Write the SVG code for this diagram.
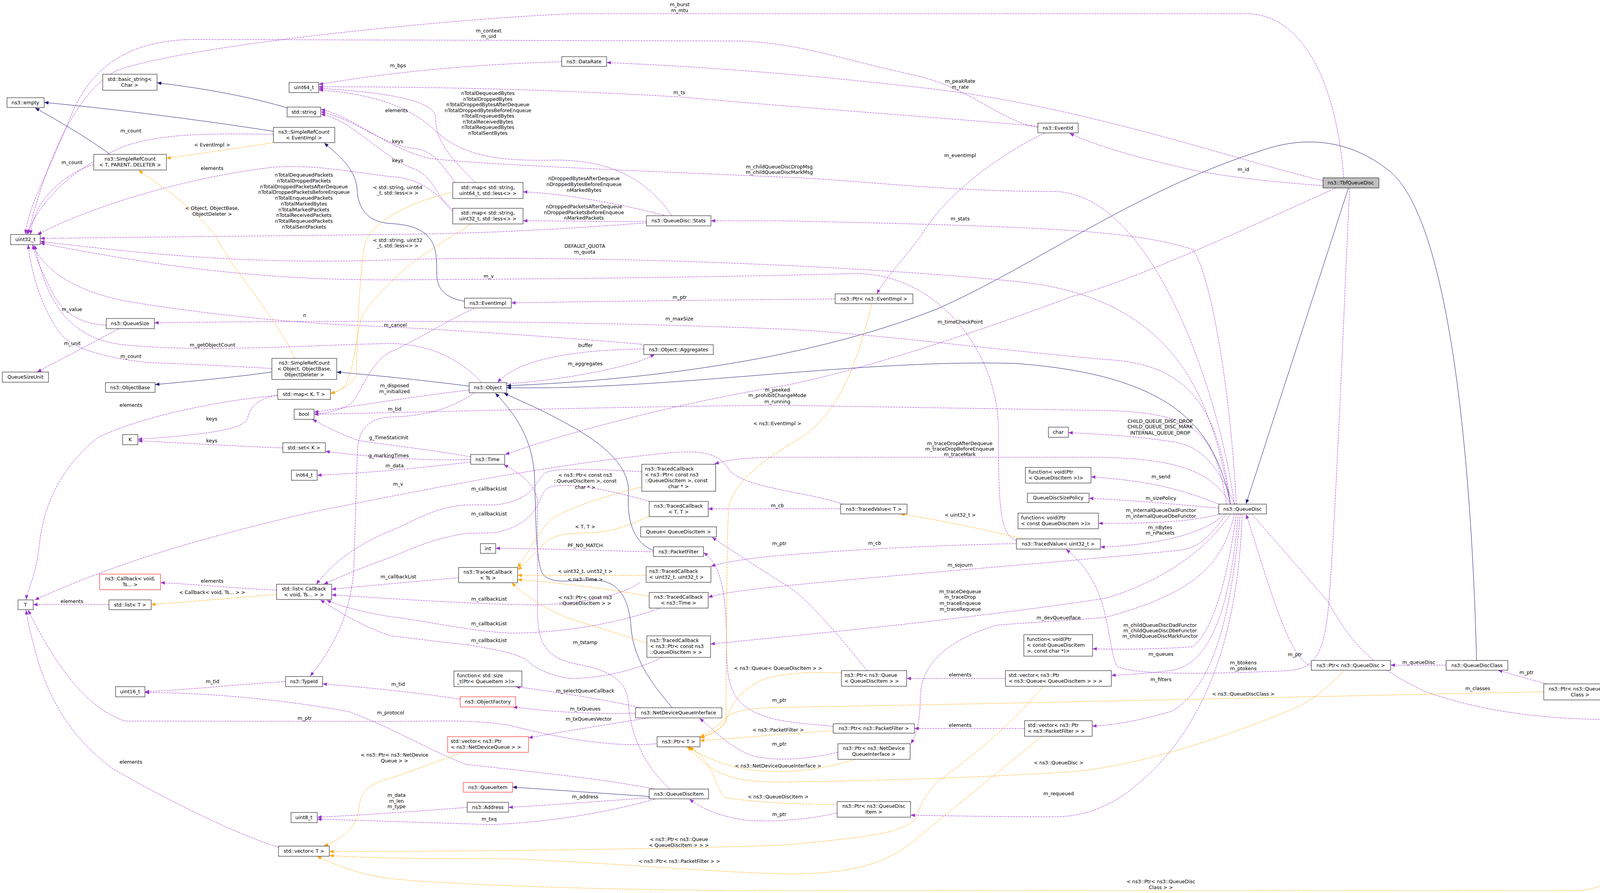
<svg xmlns="http://www.w3.org/2000/svg" width="4461" height="2285" viewBox="0 0 4461 2285">
<style>
.n rect{fill:#fff;stroke:#000;stroke-width:1}
.r rect{stroke:#f00}
text{font-family:"DejaVu Sans",sans-serif;font-size:12.5px;fill:#000}
.c{text-anchor:middle}
.p{fill:none;stroke:#9a32cd;stroke-dasharray:5,2;marker-end:url(#ap)}
.o{fill:none;stroke:#ffa500;stroke-dasharray:5,2;marker-end:url(#ao)}
.b{fill:none;stroke:#191970;marker-end:url(#ab)}
</style>
<defs>
<marker id="ap" viewBox="0 0 10 10" refX="10" refY="5" markerWidth="13" markerHeight="11" markerUnits="userSpaceOnUse" orient="auto"><path d="M0,1L10,5L0,9z" fill="#9a32cd"/></marker>
<marker id="ao" viewBox="0 0 10 10" refX="10" refY="5" markerWidth="13" markerHeight="11" markerUnits="userSpaceOnUse" orient="auto"><path d="M0,1L10,5L0,9z" fill="#ffa500"/></marker>
<marker id="ab" viewBox="0 0 10 10" refX="10" refY="5" markerWidth="13" markerHeight="11" markerUnits="userSpaceOnUse" orient="auto"><path d="M0,1L10,5L0,9z" fill="#191970"/></marker>
</defs>
<rect width="4461" height="2285" fill="#fff"/>
<g id="connectors">
<path class="b" d="M735,276 C650,250 520,225 402,212"/>
<path class="b" d="M700,336 C500,305 300,280 113,262"/>
<path class="b" d="M282,395 C220,350 150,310 90,276"/>
<path class="b" d="M1189,771 C1140,762 1118,740 1118,700 C1118,640 1120,578 1000,572 C930,568 915,520 914,480 C908,430 865,395 830,366"/>
<path class="b" d="M1201,988 C1100,975 980,962 862,952"/>
<path class="b" d="M696,952 C600,965 500,975 397,984"/>
<path class="b" d="M3150,1290 C3110,1090 3000,960 2600,930 C2200,918 1700,1000 1297,992"/>
<path class="b" d="M3780,1690 C3765,1100 3700,560 3560,440 C3450,350 3330,350 3230,385 C2900,490 2650,680 2400,790 C2050,930 1600,975 1297,987"/>
<path class="b" d="M1673,1409 C1615,1385 1605,1320 1609,1261 C1612,1190 1540,1130 1434,1075 C1380,1045 1330,1025 1290,1006"/>
<path class="b" d="M1721,1811 C1660,1740 1620,1680 1615,1600 C1610,1540 1590,1490 1530,1485 C1470,1480 1420,1500 1390,1470 C1370,1440 1372,1300 1368,1210 C1360,1120 1320,1060 1268,1006"/>
<path class="b" d="M1662,2038 L1312,2014"/>
<path class="b" d="M3452,481 L3190,1289"/>

<path class="p" d="M3440,455 C3420,200 3330,35 3190,35 L1470,35 C1200,45 500,110 300,180 C200,230 120,400 72,599"/>
<path class="p" d="M2657,326 C2560,310 2480,220 2330,190 C2150,150 2050,112 1900,105 L500,101 C300,101 220,200 180,300 C120,450 75,520 65,599"/>
<path class="p" d="M3387,462 C3200,420 2800,280 2415,231 C2200,205 1900,175 1553,160"/>
<path class="p" d="M2657,323 C2400,300 2100,280 1739,248 C1400,228 1100,222 816,222"/>
<path class="p" d="M1438,158 C1200,165 1000,185 816,216"/>
<path class="p" d="M1720,552 C1650,450 1550,405 1400,410 C1250,412 1180,390 1120,340 C1050,270 950,240 816,230"/>
<path class="p" d="M1217,467 C1150,400 1115,360 1115,300 C1115,260 1000,236 816,226"/>
<path class="p" d="M1165,467 C1130,420 1110,385 1060,380 C980,372 900,300 821,286"/>
<path class="p" d="M1159,540 C1120,510 1110,450 1060,432 C980,405 900,305 821,292"/>
<path class="p" d="M3160,1290 C3120,1000 2950,495 2700,490 C2400,490 2200,460 2000,453 C1700,440 1200,420 1100,405 C1000,385 900,295 821,280"/>
<path class="p" d="M1159,536 C1120,500 1080,455 1000,452 C900,440 800,420 700,428 C500,450 250,520 96,600"/>
<path class="p" d="M1655,570 C1400,590 1200,598 1000,600 L103,610"/>
<path class="p" d="M3150,1290 C3100,1000 3000,760 2600,720 C2200,680 1500,650 1000,665 C600,680 300,640 103,618"/>
<path class="p" d="M2602,1383 C2560,1370 2556,1300 2556,1100 C2556,900 2400,700 2190,700 C1800,710 1400,714 1000,716 C600,718 300,660 103,622"/>
<path class="p" d="M700,344 C500,340 420,345 330,370 C200,420 110,500 68,600"/>
<path class="p" d="M240,421 C180,440 130,480 100,530 C85,560 80,580 78,600"/>
<path class="p" d="M272,832 C220,830 170,810 140,760 C110,700 90,660 84,626"/>
<path class="p" d="M305,841 L95,952"/>
<path class="p" d="M696,943 C600,937 450,930 383,928 C300,920 200,900 160,860 C110,800 80,700 72,626"/>
<path class="p" d="M1233,979 C1180,920 1100,880 1000,879 C800,882 500,905 300,880 C180,860 120,780 89,627"/>
<path class="p" d="M1644,881 C1400,860 1100,840 893,832 C700,822 500,800 319,770 C200,745 120,700 83,627"/>
<path class="p" d="M3150,1290 C3120,1050 3050,930 2830,920 C2500,890 2200,850 2000,842 C1700,830 1200,815 395,826"/>
<path class="p" d="M711,1012 C550,1025 350,1070 250,1120 C150,1200 110,1300 100,1400 C90,1480 70,1510 67,1534"/>
<path class="p" d="M711,1011 C660,1020 640,1040 634,1070 C625,1095 560,1110 353,1124"/>
<path class="p" d="M724,1146 C600,1142 450,1132 353,1128"/>
<path class="p" d="M279,1547 L85,1547"/>
<path class="p" d="M708,1510 C600,1505 500,1495 411,1491"/>
<path class="p" d="M731,1744 C600,1752 480,1765 371,1770"/>
<path class="p" d="M713,2168 C620,2140 450,2060 287,1966 C200,1900 140,1821 100,1700 C80,1630 70,1590 67,1561"/>
<path class="p" d="M1680,1903 C1550,1915 1400,1880 1300,1855 C1200,1840 1100,1846 1000,1846 L320,1845 C230,1815 150,1720 72,1561"/>
<path class="p" d="M1676,2019 C1500,1985 1300,1970 1190,1955 C1100,1920 1000,1860 893,1821 C700,1785 500,1772 371,1772"/>
<path class="p" d="M1676,2045 C1550,2080 1400,2105 1255,2110 C1100,2105 950,2100 812,2096"/>
<path class="p" d="M1196,2066 C1100,2073 950,2085 812,2091"/>
<path class="p" d="M1662,2041 C1550,2050 1400,2060 1302,2066"/>
<path class="p" d="M1715,2019 C1650,1960 1612,1880 1608,1790 C1600,1740 1560,1715 1480,1700 C1400,1685 1376,1650 1376,1560 L1376,1280 C1370,1240 1330,1210 1290,1189"/>
<path class="p" d="M1201,998 C1100,1010 1000,1024 804,1055"/>
<path class="p" d="M1214,789 C1160,812 1050,880 1000,900 C950,925 925,1000 906,1024 C895,1040 860,1055 804,1060"/>
<path class="p" d="M1205,1169 C1100,1150 1000,1140 918,1127 C870,1110 830,1090 800,1073"/>
<path class="p" d="M1205,1176 C1100,1180 950,1170 833,1155"/>
<path class="p" d="M1205,1182 C1100,1195 950,1210 812,1216"/>
<path class="p" d="M1643,1207 C1550,1202 1420,1195 1396,1210 C1370,1230 1370,1280 1268,1292 L1191,1292 C1100,1300 1050,1340 1000,1358 C920,1390 850,1440 810,1495"/>
<path class="p" d="M1663,1283 C1550,1250 1430,1230 1400,1250 C1375,1275 1380,1340 1268,1363 L1191,1365 C1100,1380 1040,1410 1000,1426 C920,1455 860,1480 829,1495"/>
<path class="p" d="M1174,1478 C1100,1485 1000,1493 849,1508"/>
<path class="p" d="M1638,1490 C1600,1520 1500,1545 1370,1548 C1200,1545 1050,1535 849,1522"/>
<path class="p" d="M1689,1556 C1600,1590 1450,1620 1306,1620 C1200,1615 1100,1590 1000,1578 C920,1565 870,1550 836,1536"/>
<path class="p" d="M1695,1682 C1620,1720 1510,1740 1450,1735 C1380,1720 1360,1700 1350,1690 C1320,1670 1255,1660 1200,1650 C1100,1640 1050,1632 1000,1627 C920,1600 860,1560 820,1535"/>
<path class="p" d="M2152,1302 L1813,1302"/>
<path class="p" d="M2602,1391 C2400,1395 2200,1405 2000,1421 C1900,1430 1850,1440 1820,1449"/>
<path class="p" d="M2220,1716 C2150,1630 2060,1520 2000,1490 C1930,1445 1860,1400 1823,1375"/>
<path class="p" d="M2133,1859 C2080,1852 2000,1850 1950,1830 C1870,1800 1860,1750 1860,1650 C1860,1500 1840,1440 1801,1414"/>
<path class="p" d="M2145,1925 C2080,1940 2000,1950 1930,1935 C1870,1915 1830,1870 1791,1838"/>
<path class="p" d="M2143,2080 C2080,2095 2000,2103 1920,2100 C1840,2090 1800,2070 1765,2045"/>
<path class="p" d="M1673,1412 C1500,1408 1400,1404 1269,1403"/>
<path class="p" d="M1640,1811 C1550,1790 1420,1770 1320,1757"/>
<path class="p" d="M1627,1825 C1500,1828 1400,1820 1313,1809"/>
<path class="p" d="M1660,1837 C1550,1855 1450,1870 1353,1888"/>
<path class="p" d="M1178,1789 C1050,1770 950,1760 826,1750"/>
<path class="p" d="M1214,1005 C1150,1050 1080,1065 1000,1067 C950,1070 920,1090 915,1150 L906,1450 C900,1560 860,1650 794,1730"/>
<path class="p" d="M1648,893 C1500,895 1400,910 1330,940 C1300,955 1285,965 1274,979"/>
<path class="p" d="M1297,982 C1400,975 1500,960 1600,935 C1640,925 1660,915 1676,907"/>
<path class="p" d="M2138,765 C1900,767 1600,770 1309,775"/>
<path class="p" d="M2675,340 C2550,400 2420,500 2360,600 C2300,680 2260,720 2245,752"/>
<path class="p" d="M3387,475 C3250,465 3100,450 2990,420 C2900,400 2800,370 2738,341"/>
<path class="p" d="M3420,481 C3200,580 2900,720 2746,758 C2500,850 2200,950 2000,988 C1800,1020 1500,1090 1293,1163"/>
<path class="p" d="M3165,1290 C3150,1000 3100,700 3053,638 C2900,590 2700,580 2000,565 L1820,565"/>
<path class="p" d="M3140,1290 C3110,1100 3060,1052 2800,1050 L2000,1037 C1600,1040 1200,1052 804,1060"/>
<path class="p" d="M3150,1290 C3100,1200 3000,1172 2800,1170 L2000,1170 C1900,1170 1860,1178 1829,1187"/>
<path class="p" d="M3161,1290 C3120,1200 3080,1140 3000,1130 C2900,1115 2800,1110 2735,1107"/>
<path class="p" d="M3125,1292 C3000,1240 2900,1228 2793,1220"/>
<path class="p" d="M3120,1300 C3000,1290 2900,1280 2788,1275"/>
<path class="p" d="M3125,1315 C3050,1335 2950,1340 2812,1339"/>
<path class="p" d="M3135,1315 C3080,1370 2950,1395 2817,1400"/>
<path class="p" d="M3140,1315 C3090,1380 3070,1405 3000,1410 C2700,1440 2300,1470 2000,1500 C1900,1510 1850,1518 1813,1528"/>
<path class="p" d="M3150,1315 C3100,1390 3000,1480 2829,1531 C2500,1580 2200,1610 2000,1630 C1900,1640 1850,1645 1819,1648"/>
<path class="p" d="M3160,1315 C3130,1450 3050,1520 2829,1580 C2700,1590 2600,1595 2550,1600 C2420,1640 2360,1700 2356,1780 C2356,1850 2345,1880 2332,1903"/>
<path class="p" d="M3165,1315 C3140,1500 3100,1620 3053,1655 C2950,1662 2850,1662 2797,1660"/>
<path class="p" d="M3170,1315 C3150,1550 3100,1700 3000,1715 C2950,1722 2900,1726 2845,1728"/>
<path class="p" d="M3175,1315 C3150,1600 3100,1760 3000,1820 C2900,1848 2850,1855 2796,1858"/>
<path class="p" d="M3180,1315 C3170,1600 3100,1850 2912,2007 C2850,2060 2780,2090 2700,2090 C2550,2090 2400,2087 2331,2086"/>
<path class="p" d="M2574,1736 L2321,1736"/>
<path class="p" d="M2623,1864 L2341,1864"/>
<path class="p" d="M3455,482 C3440,800 3425,1200 3405,1500 C3395,1650 3380,1710 3300,1716 C3100,1725 2900,1728 2860,1705 C2830,1650 2850,1500 2729,1406"/>
<path class="p" d="M3357,1703 C3300,1690 3250,1500 3190,1316"/>
<path class="p" d="M3702,1702 L3560,1702"/>
<path class="p" d="M3960,1750 C3920,1740 3880,1728 3835,1715"/>
<path class="p" d="M4253,1809 C4210,1800 4180,1795 4138,1789"/>
<path class="p" d="M3205,1316 C3270,1390 3340,1470 3400,1540 C3460,1650 3520,1710 3650,1770 C3850,1840 4050,1845 4253,1840"/>
<path class="p" d="M1701,551 C1600,525 1450,495 1339,491"/>
<path class="p" d="M1655,566 C1550,568 1450,565 1339,565"/>
<path class="p" d="M2157,1290 C2080,1260 1900,1250 1865,1200 C1840,1160 1800,1150 1700,1160 C1400,1190 1100,1250 800,1310 C500,1380 300,1440 89,1535"/>

<path class="o" d="M700,365 C600,380 500,395 426,405"/>
<path class="o" d="M755,917 C700,800 600,700 550,600 C480,520 420,480 355,436"/>
<path class="o" d="M1153,493 C1060,515 960,560 935,620 C920,700 915,850 912,960 C900,985 870,1000 846,1007"/>
<path class="o" d="M1204,574 C1150,610 1080,650 1032,692 C980,740 940,780 925,814 C910,870 905,960 880,990 C870,1000 860,1004 846,1006"/>
<path class="o" d="M708,1521 C600,1530 480,1540 387,1547"/>
<path class="o" d="M2232,777 C2200,900 2160,1050 2050,1120 C1950,1180 1880,1230 1865,1300 C1860,1400 1861,1600 1858,1840 C1850,1865 1820,1880 1792,1886"/>
<path class="o" d="M1641,1246 C1550,1270 1450,1300 1410,1330 C1370,1370 1350,1420 1325,1452"/>
<path class="o" d="M1660,1321 C1620,1340 1570,1362 1510,1363 C1450,1365 1420,1368 1400,1385 C1370,1410 1350,1440 1325,1458"/>
<path class="o" d="M1654,1472 L1325,1472"/>
<path class="o" d="M1662,1526 C1550,1505 1420,1490 1325,1483"/>
<path class="o" d="M1654,1645 C1580,1620 1510,1600 1450,1580 C1380,1550 1340,1520 1310,1491"/>
<path class="o" d="M2620,1379 C2500,1350 2400,1330 2305,1315"/>
<path class="o" d="M2154,1722 C2080,1718 2000,1722 1950,1740 C1890,1770 1865,1810 1858,1850 C1840,1870 1820,1880 1792,1888"/>
<path class="o" d="M2133,1870 C2000,1878 1900,1888 1792,1895"/>
<path class="o" d="M2190,1943 C2100,1970 2000,1985 1893,1965 C1830,1950 1790,1930 1765,1911"/>
<path class="o" d="M2143,2058 C2050,2060 1900,2050 1855,2040 C1830,2010 1830,1975 1800,1940 C1785,1925 1770,1915 1757,1911"/>
<path class="o" d="M3440,1716 C3400,1760 3350,1800 3300,1818 C3150,1880 2900,1970 2705,1977 C2500,1990 2200,1999 2000,2001 C1900,2001 1850,1990 1800,1950 C1785,1935 1770,1920 1760,1911"/>
<path class="o" d="M3952,1770 C3700,1775 3400,1782 3300,1784 C2800,1795 2300,1805 2000,1810 C1920,1812 1880,1818 1860,1835 C1840,1855 1815,1875 1792,1886"/>
<path class="o" d="M1185,1925 C1100,1955 1050,1975 1000,1991 C950,2005 925,2020 920,2060 C915,2110 890,2140 829,2165"/>
<path class="o" d="M2671,1756 C2600,1840 2500,1930 2400,2000 C2360,2040 2350,2080 2340,2100 C2300,2130 2250,2140 2000,2163 C1700,2172 1300,2178 843,2179"/>
<path class="o" d="M2667,1884 C2600,1940 2450,2060 2332,2158 C2250,2220 2150,2238 2000,2236 C1800,2230 1600,2210 1319,2198 C1200,2195 1000,2200 843,2189"/>
<path class="o" d="M4348,1849 C4330,1950 4300,2080 4263,2134 C4200,2220 4130,2270 4040,2279 L2000,2279 C1500,2279 1100,2260 1000,2248 C930,2240 860,2215 812,2191"/>

<g class="c">
<text x="1740" y="16">m_burst</text><text x="1740" y="31">m_mtu</text>
<text x="1251" y="83">m_context</text><text x="1251" y="97">m_uid</text>
<text x="2458" y="212">m_peakRate</text><text x="2458" y="227">m_rate</text>
<text x="1739" y="241">m_ts</text>
<text x="1019" y="172">m_bps</text>
<text x="1249" y="243">nTotalDequeuedBytes</text><text x="1249" y="258">nTotalDroppedBytes</text><text x="1249" y="272">nTotalDroppedBytesAfterDequeue</text><text x="1249" y="287">nTotalDroppedBytesBeforeEnqueue</text><text x="1249" y="301">nTotalEnqueuedBytes</text><text x="1249" y="316">nTotalReceivedBytes</text><text x="1249" y="330">nTotalRequeuedBytes</text><text x="1249" y="345">nTotalSentBytes</text>
<text x="1015" y="287">elements</text>
<text x="1018" y="366">keys</text>
<text x="1018" y="415">keys</text>
<text x="1995" y="431">m_childQueueDiscDropMsg</text><text x="1995" y="445">m_childQueueDiscMarkMsg</text>
<text x="2458" y="402">m_eventImpl</text>
<text x="3183" y="438">m_id</text>
<text x="1495" y="461">nDroppedBytesAfterDequeue</text><text x="1495" y="476">nDroppedBytesBeforeEnqueue</text><text x="1495" y="491">nMarkedBytes</text>
<text x="1495" y="533">nDroppedPacketsAfterDequeue</text><text x="1495" y="548">nDroppedPacketsBeforeEnqueue</text><text x="1495" y="562">nMarkedPackets</text>
<text x="2458" y="564">m_stats</text>
<text x="335" y="339">m_count</text>
<text x="543" y="375">&lt; EventImpl &gt;</text>
<text x="184" y="420">m_count</text>
<text x="543" y="435">elements</text>
<text x="778" y="452">nTotalDequeuedPackets</text><text x="778" y="467">nTotalDroppedPackets</text><text x="778" y="482">nTotalDroppedPacketsAfterDequeue</text><text x="778" y="496">nTotalDroppedPacketsBeforeEnqueue</text><text x="778" y="511">nTotalEnqueuedPackets</text><text x="778" y="526">nTotalMarkedBytes</text><text x="778" y="541">nTotalMarkedPackets</text><text x="778" y="555">nTotalReceivedPackets</text><text x="778" y="570">nTotalRequeuedPackets</text><text x="778" y="585">nTotalSentPackets</text>
<text x="1018" y="484">&lt; std::string, uint64</text><text x="1018" y="498">_t, std::less&lt;&gt; &gt;</text>
<text x="543" y="537">&lt; Object, ObjectBase,</text><text x="543" y="552">ObjectDeleter &gt;</text>
<text x="1018" y="619">&lt; std::string, uint32</text><text x="1018" y="633">_t, std::less&lt;&gt; &gt;</text>
<text x="1497" y="634">DEFAULT_QUOTA</text><text x="1497" y="649">m_quota</text>
<text x="1251" y="711">m_v</text>
<text x="1740" y="765">m_ptr</text>
<text x="184" y="796">m_value</text>
<text x="780" y="811">n</text>
<text x="1739" y="820">m_maxSize</text>
<text x="2458" y="828">m_timeCheckPoint</text>
<text x="1012" y="836">m_cancel</text>
<text x="185" y="883">m_unit</text>
<text x="544" y="887">m_getObjectCount</text>
<text x="1499" y="888">buffer</text>
<text x="335" y="916">m_count</text>
<text x="1498" y="935">m_aggregates</text>
<text x="1010" y="991">m_disposed</text><text x="1010" y="1006">m_initialized</text>
<text x="1990" y="1002">m_peeked</text><text x="1990" y="1016">m_prohibitChangeMode</text><text x="1990" y="1032">m_running</text>
<text x="335" y="1041">elements</text>
<text x="1010" y="1051">m_tid</text>
<text x="542" y="1076">keys</text>
<text x="2970" y="1082">CHILD_QUEUE_DISC_DROP</text><text x="2970" y="1096">CHILD_QUEUE_DISC_MARK</text><text x="2970" y="1112">INTERNAL_QUEUE_DROP</text>
<text x="1990" y="1088">&lt; ns3::EventImpl &gt;</text>
<text x="995" y="1124">g_TimeStaticInit</text>
<text x="542" y="1132">keys</text>
<text x="2457" y="1139">m_traceDropAfterDequeue</text><text x="2457" y="1153">m_traceDropBeforeEnqueue</text><text x="2457" y="1167">m_traceMark</text>
<text x="995" y="1170">g_markingTimes</text>
<text x="1010" y="1196">m_data</text>
<text x="1498" y="1220">&lt; ns3::Ptr&lt; const ns3</text><text x="1498" y="1235">::QueueDiscItem &gt;, const</text><text x="1498" y="1251">char * &gt;</text>
<text x="2972" y="1224">m_send</text>
<text x="1019" y="1243">m_v</text>
<text x="1252" y="1255">m_callbackList</text>
<text x="2972" y="1279">m_sizePolicy</text>
<text x="1990" y="1298">m_cb</text>
<text x="2972" y="1310">m_internalQueueDadFunctor</text><text x="2972" y="1325">m_internalQueueDbeFunctor</text>
<text x="1252" y="1319">m_callbackList</text>
<text x="2458" y="1322">&lt; uint32_t &gt;</text>
<text x="1498" y="1352">&lt; T, T &gt;</text>
<text x="2970" y="1354">m_nBytes</text><text x="2970" y="1368">m_nPackets</text>
<text x="2239" y="1394">m_cb</text>
<text x="1995" y="1395">m_ptr</text>
<text x="1498" y="1400">PF_NO_MATCH</text>
<text x="2458" y="1450">m_sojourn</text>
<text x="1498" y="1466">&lt; uint32_t, uint32_t &gt;</text>
<text x="1020" y="1480">m_callbackList</text>
<text x="1498" y="1487">&lt; ns3::Time &gt;</text>
<text x="543" y="1491">elements</text>
<text x="2458" y="1518">m_traceDequeue</text><text x="2458" y="1532">m_traceDrop</text><text x="2458" y="1548">m_traceEnqueue</text><text x="2458" y="1563">m_traceRequeue</text>
<text x="543" y="1520">&lt; Callback&lt; void, Ts... &gt; &gt;</text>
<text x="1498" y="1533">&lt; ns3::Ptr&lt; const ns3</text><text x="1498" y="1548">::QueueDiscItem &gt; &gt;</text>
<text x="1252" y="1537">m_callbackList</text>
<text x="184" y="1543">elements</text>
<text x="2710" y="1585">m_devQueueIface</text>
<text x="1252" y="1600">m_callbackList</text>
<text x="2970" y="1604">m_childQueueDiscDadFunctor</text><text x="2970" y="1618">m_childQueueDiscDbeFunctor</text><text x="2970" y="1632">m_childQueueDiscMarkFunctor</text>
<text x="1252" y="1643">m_callbackList</text>
<text x="1498" y="1648">m_tstamp</text>
<text x="2972" y="1678">m_queues</text>
<text x="3315" y="1679">m_ptr</text>
<text x="3632" y="1699">m_queueDisc</text>
<text x="3183" y="1700">m_btokens</text><text x="3183" y="1715">m_ptokens</text>
<text x="1992" y="1714">&lt; ns3::Queue&lt; QueueDiscItem &gt; &gt;</text>
<text x="3908" y="1725">m_ptr</text>
<text x="2458" y="1731">elements</text>
<text x="2972" y="1743">m_filters</text>
<text x="544" y="1748">m_tid</text>
<text x="1019" y="1755">m_tid</text>
<text x="3783" y="1766">m_classes</text>
<text x="1498" y="1772">m_selectQueueCallback</text>
<text x="3183" y="1780">&lt; ns3::QueueDiscClass &gt;</text>
<text x="4197" y="1787">elements</text>
<text x="1995" y="1796">m_ptr</text>
<text x="1498" y="1818">m_txQueues</text>
<text x="1000" y="1828">m_protocol</text>
<text x="780" y="1842">m_ptr</text>
<text x="1507" y="1844">m_txQueuesVector</text>
<text x="2458" y="1860">elements</text>
<text x="1992" y="1872">&lt; ns3::PacketFilter &gt;</text>
<text x="1995" y="1908">m_ptr</text>
<text x="1010" y="1936">&lt; ns3::Ptr&lt; ns3::NetDevice</text><text x="1010" y="1951">Queue &gt; &gt;</text>
<text x="335" y="1954">elements</text>
<text x="2710" y="1956">&lt; ns3::QueueDisc &gt;</text>
<text x="1992" y="1964">&lt; ns3::NetDeviceQueueInterface &gt;</text>
<text x="2710" y="2035">m_requeued</text>
<text x="1015" y="2039">m_data</text><text x="1015" y="2054">m_len</text><text x="1015" y="2068">m_type</text>
<text x="1498" y="2043">m_address</text>
<text x="1992" y="2043">&lt; ns3::QueueDiscItem &gt;</text>
<text x="1995" y="2088">m_ptr</text>
<text x="1252" y="2100">m_txq</text>
<text x="1738" y="2152">&lt; ns3::Ptr&lt; ns3::Queue</text><text x="1738" y="2167">&lt; QueueDiscItem &gt; &gt; &gt;</text>
<text x="1739" y="2208">&lt; ns3::Ptr&lt; ns3::PacketFilter &gt; &gt;</text>
<text x="2972" y="2260">&lt; ns3::Ptr&lt; ns3::QueueDisc</text><text x="2972" y="2275">Class &gt; &gt;</text>
</g>
</g>

<g id="n_tbf" class="n"><rect x="3387" y="455" width="143" height="26" style="fill:#bfbfbf"/><text class="c" x="3458" y="472">ns3::TbfQueueDisc</text></g>
<g id="n_qd" class="n"><rect x="3120" y="1290" width="122" height="25"/><text class="c" x="3181" y="1307">ns3::QueueDisc</text></g>
<g id="n_empty" class="n"><rect x="18" y="250" width="95" height="25"/><text class="c" x="65" y="267">ns3::empty</text></g>
<g id="n_bstr" class="n"><rect x="263" y="190" width="139" height="41"/><text class="c" x="332" y="207">std::basic_string&lt;</text><text class="c" x="332" y="222">Char &gt;</text></g>
<g id="n_u64" class="n"><rect x="740" y="211" width="76" height="26"/><text class="c" x="778" y="228">uint64_t</text></g>
<g id="n_str" class="n"><rect x="735" y="274" width="86" height="25"/><text class="c" x="778" y="291">std::string</text></g>
<g id="n_srcev" class="n"><rect x="700" y="326" width="157" height="39"/><text class="c" x="778" y="342">ns3::SimpleRefCount</text><text class="c" x="778" y="357">&lt; EventImpl &gt;</text></g>
<g id="n_srct" class="n"><rect x="240" y="395" width="186" height="40"/><text class="c" x="333" y="411">ns3::SimpleRefCount</text><text class="c" x="333" y="426">&lt; T, PARENT, DELETER &gt;</text></g>
<g id="n_u32" class="n"><rect x="27" y="600" width="76" height="26"/><text class="c" x="65" y="617">uint32_t</text></g>
<g id="n_qs" class="n"><rect x="272" y="815" width="123" height="26"/><text class="c" x="333" y="832">ns3::QueueSize</text></g>
<g id="n_qsu" class="n"><rect x="6" y="952" width="118" height="26"/><text class="c" x="65" y="969">QueueSizeUnit</text></g>
<g id="n_srcobj" class="n"><rect x="696" y="917" width="166" height="54"/><text class="c" x="779" y="933">ns3::SimpleRefCount</text><text class="c" x="779" y="948">&lt; Object, ObjectBase,</text><text class="c" x="779" y="963">ObjectDeleter &gt;</text></g>
<g id="n_objbase" class="n"><rect x="270" y="979" width="127" height="25"/><text class="c" x="333" y="996">ns3::ObjectBase</text></g>
<g id="n_mapkt" class="n"><rect x="711" y="996" width="135" height="26"/><text class="c" x="778" y="1013">std::map&lt; K, T &gt;</text></g>
<g id="n_bool" class="n"><rect x="753" y="1047" width="51" height="26"/><text class="c" x="778" y="1064">bool</text></g>
<g id="n_k" class="n"><rect x="314" y="1112" width="39" height="26"/><text class="c" x="333" y="1129">K</text></g>
<g id="n_setk" class="n"><rect x="724" y="1133" width="109" height="25"/><text class="c" x="778" y="1150">std::set&lt; K &gt;</text></g>
<g id="n_i64" class="n"><rect x="746" y="1203" width="66" height="26"/><text class="c" x="779" y="1220">int64_t</text></g>
<g id="n_cb" class="n r"><rect x="255" y="1469" width="156" height="40"/><text class="c" x="333" y="1485">ns3::Callback&lt; void,</text><text class="c" x="333" y="1500">Ts... &gt;</text></g>
<g id="n_t" class="n"><rect x="46" y="1535" width="39" height="25"/><text class="c" x="65" y="1552">T</text></g>
<g id="n_listt" class="n"><rect x="279" y="1535" width="108" height="25"/><text class="c" x="333" y="1552">std::list&lt; T &gt;</text></g>
<g id="n_listcb" class="n"><rect x="708" y="1495" width="141" height="39"/><text class="c" x="778" y="1511">std::list&lt; Callback</text><text class="c" x="778" y="1526">&lt; void, Ts... &gt; &gt;</text></g>
<g id="n_typeid" class="n"><rect x="731" y="1731" width="95" height="26"/><text class="c" x="778" y="1748">ns3::TypeId</text></g>
<g id="n_u16" class="n"><rect x="296" y="1757" width="75" height="26"/><text class="c" x="333" y="1774">uint16_t</text></g>
<g id="n_u8" class="n"><rect x="745" y="2079" width="67" height="26"/><text class="c" x="778" y="2096">uint8_t</text></g>
<g id="n_vect" class="n"><rect x="713" y="2165" width="130" height="26"/><text class="c" x="778" y="2182">std::vector&lt; T &gt;</text></g>
<g id="n_datarate" class="n"><rect x="1438" y="145" width="115" height="25"/><text class="c" x="1495" y="162">ns3::DataRate</text></g>
<g id="n_mapu64" class="n"><rect x="1159" y="467" width="180" height="41"/><text class="c" x="1249" y="484">std::map&lt; std::string,</text><text class="c" x="1249" y="499">uint64_t, std::less&lt;&gt; &gt;</text></g>
<g id="n_mapu32" class="n"><rect x="1159" y="533" width="180" height="40"/><text class="c" x="1249" y="549">std::map&lt; std::string,</text><text class="c" x="1249" y="564">uint32_t, std::less&lt;&gt; &gt;</text></g>
<g id="n_stats" class="n"><rect x="1655" y="552" width="165" height="26"/><text class="c" x="1737" y="569">ns3::QueueDisc::Stats</text></g>
<g id="n_eventimpl" class="n"><rect x="1189" y="763" width="120" height="25"/><text class="c" x="1249" y="780">ns3::EventImpl</text></g>
<g id="n_aggr" class="n"><rect x="1648" y="882" width="178" height="25"/><text class="c" x="1737" y="899">ns3::Object::Aggregates</text></g>
<g id="n_object" class="n"><rect x="1201" y="979" width="96" height="26"/><text class="c" x="1249" y="996">ns3::Object</text></g>
<g id="n_time" class="n"><rect x="1205" y="1163" width="87" height="25"/><text class="c" x="1248" y="1180">ns3::Time</text></g>
<g id="n_tcptrchar" class="n"><rect x="1643" y="1188" width="189" height="69"/><text x="1651" y="1204">ns3::TracedCallback</text><text x="1651" y="1219">&lt; ns3::Ptr&lt; const ns3</text><text x="1651" y="1234">::QueueDiscItem &gt;, const</text><text class="c" x="1737" y="1249">char * &gt;</text></g>
<g id="n_tctt" class="n"><rect x="1662" y="1283" width="151" height="39"/><text class="c" x="1737" y="1299">ns3::TracedCallback</text><text class="c" x="1737" y="1314">&lt; T, T &gt;</text></g>
<g id="n_queueqdi" class="n"><rect x="1640" y="1348" width="194" height="26"/><text class="c" x="1737" y="1365">Queue&lt; QueueDiscItem &gt;</text></g>
<g id="n_int" class="n"><rect x="1230" y="1391" width="39" height="25"/><text class="c" x="1249" y="1408">int</text></g>
<g id="n_pf" class="n"><rect x="1673" y="1399" width="128" height="25"/><text class="c" x="1737" y="1416">ns3::PacketFilter</text></g>
<g id="n_tcts" class="n"><rect x="1174" y="1452" width="151" height="39"/><text class="c" x="1249" y="1468">ns3::TracedCallback</text><text class="c" x="1249" y="1483">&lt; Ts &gt;</text></g>
<g id="n_tcu32" class="n"><rect x="1654" y="1450" width="166" height="40"/><text x="1662" y="1466">ns3::TracedCallback</text><text x="1662" y="1481">&lt; uint32_t, uint32_t &gt;</text></g>
<g id="n_tctime" class="n"><rect x="1662" y="1516" width="151" height="40"/><text class="c" x="1737" y="1532">ns3::TracedCallback</text><text class="c" x="1737" y="1547">&lt; ns3::Time &gt;</text></g>
<g id="n_tcptr" class="n"><rect x="1656" y="1627" width="163" height="55"/><text x="1664" y="1643">ns3::TracedCallback</text><text x="1664" y="1658">&lt; ns3::Ptr&lt; const ns3</text><text x="1664" y="1673">::QueueDiscItem &gt; &gt;</text></g>
<g id="n_funcsize" class="n"><rect x="1162" y="1717" width="174" height="40"/><text x="1170" y="1733">function&lt; std::size</text><text x="1170" y="1748">_t(Ptr&lt; QueueItem &gt;)&gt;</text></g>
<g id="n_objfact" class="n r"><rect x="1178" y="1783" width="142" height="26"/><text class="c" x="1249" y="1800">ns3::ObjectFactory</text></g>
<g id="n_ndqi" class="n"><rect x="1627" y="1811" width="221" height="26"/><text class="c" x="1737" y="1828">ns3::NetDeviceQueueInterface</text></g>
<g id="n_vecndq" class="n r"><rect x="1146" y="1885" width="207" height="40"/><text x="1154" y="1901">std::vector&lt; ns3::Ptr</text><text x="1154" y="1916">&lt; ns3::NetDeviceQueue &gt; &gt;</text></g>
<g id="n_ptrt" class="n"><rect x="1682" y="1885" width="110" height="26"/><text class="c" x="1737" y="1902">ns3::Ptr&lt; T &gt;</text></g>
<g id="n_queueitem" class="n r"><rect x="1186" y="2002" width="126" height="25"/><text class="c" x="1249" y="2019">ns3::QueueItem</text></g>
<g id="n_qdi" class="n"><rect x="1662" y="2019" width="152" height="25"/><text class="c" x="1738" y="2036">ns3::QueueDiscItem</text></g>
<g id="n_address" class="n"><rect x="1196" y="2053" width="106" height="25"/><text class="c" x="1249" y="2070">ns3::Address</text></g>
<g id="n_eventid" class="n"><rect x="2657" y="315" width="103" height="25"/><text class="c" x="2708" y="332">ns3::EventId</text></g>
<g id="n_ptrev" class="n"><rect x="2138" y="752" width="199" height="25"/><text class="c" x="2237" y="769">ns3::Ptr&lt; ns3::EventImpl &gt;</text></g>
<g id="n_char" class="n"><rect x="2684" y="1093" width="51" height="26"/><text class="c" x="2709" y="1110">char</text></g>
<g id="n_funcqdi" class="n"><rect x="2625" y="1196" width="168" height="40"/><text x="2633" y="1212">function&lt; void(Ptr</text><text x="2633" y="1227">&lt; QueueDiscItem &gt;)&gt;</text></g>
<g id="n_qdsp" class="n"><rect x="2630" y="1262" width="158" height="24"/><text class="c" x="2709" y="1278">QueueDiscSizePolicy</text></g>
<g id="n_funccqdi" class="n"><rect x="2606" y="1313" width="206" height="40"/><text x="2614" y="1329">function&lt; void(Ptr</text><text x="2614" y="1344">&lt; const QueueDiscItem &gt;)&gt;</text></g>
<g id="n_tvt" class="n"><rect x="2152" y="1290" width="170" height="25"/><text class="c" x="2237" y="1307">ns3::TracedValue&lt; T &gt;</text></g>
<g id="n_tvu32" class="n"><rect x="2602" y="1379" width="215" height="26"/><text class="c" x="2709" y="1396">ns3::TracedValue&lt; uint32_t &gt;</text></g>
<g id="n_funccqdichar" class="n"><rect x="2621" y="1624" width="176" height="55"/><text x="2629" y="1640">function&lt; void(Ptr</text><text x="2629" y="1655">&lt; const QueueDiscItem</text><text x="2629" y="1670">&gt;, const char *)&gt;</text></g>
<g id="n_ptrqueue" class="n"><rect x="2154" y="1716" width="167" height="40"/><text x="2162" y="1732">ns3::Ptr&lt; ns3::Queue</text><text x="2162" y="1747">&lt; QueueDiscItem &gt; &gt;</text></g>
<g id="n_vecptrqueue" class="n"><rect x="2574" y="1716" width="271" height="40"/><text x="2582" y="1732">std::vector&lt; ns3::Ptr</text><text x="2582" y="1747">&lt; ns3::Queue&lt; QueueDiscItem &gt; &gt; &gt;</text></g>
<g id="n_ptrpf" class="n"><rect x="2133" y="1852" width="208" height="24"/><text class="c" x="2237" y="1868">ns3::Ptr&lt; ns3::PacketFilter &gt;</text></g>
<g id="n_vecpf" class="n"><rect x="2623" y="1844" width="173" height="40"/><text x="2631" y="1860">std::vector&lt; ns3::Ptr</text><text x="2631" y="1875">&lt; ns3::PacketFilter &gt; &gt;</text></g>
<g id="n_ptrndqi" class="n"><rect x="2145" y="1903" width="185" height="40"/><text class="c" x="2237" y="1919">ns3::Ptr&lt; ns3::NetDevice</text><text class="c" x="2237" y="1934">QueueInterface &gt;</text></g>
<g id="n_ptrqdi" class="n"><rect x="2143" y="2051" width="188" height="40"/><text class="c" x="2237" y="2067">ns3::Ptr&lt; ns3::QueueDisc</text><text class="c" x="2237" y="2082">Item &gt;</text></g>
<g id="n_ptrqd" class="n"><rect x="3357" y="1690" width="203" height="25"/><text class="c" x="3458" y="1707">ns3::Ptr&lt; ns3::QueueDisc &gt;</text></g>
<g id="n_qdc" class="n"><rect x="3702" y="1690" width="158" height="25"/><text class="c" x="3781" y="1707">ns3::QueueDiscClass</text></g>
<g id="n_ptrqdc" class="n"><rect x="3952" y="1750" width="186" height="41"/><text class="c" x="4045" y="1767">ns3::Ptr&lt; ns3::QueueDisc</text><text class="c" x="4045" y="1782">Class &gt;</text></g>
<g id="n_vecqdc" class="n"><rect x="4253" y="1809" width="203" height="40"/><text x="4261" y="1825">std::vector&lt; ns3::Ptr</text><text x="4261" y="1840">&lt; ns3::QueueDiscClass &gt; &gt;</text></g>
</svg>
